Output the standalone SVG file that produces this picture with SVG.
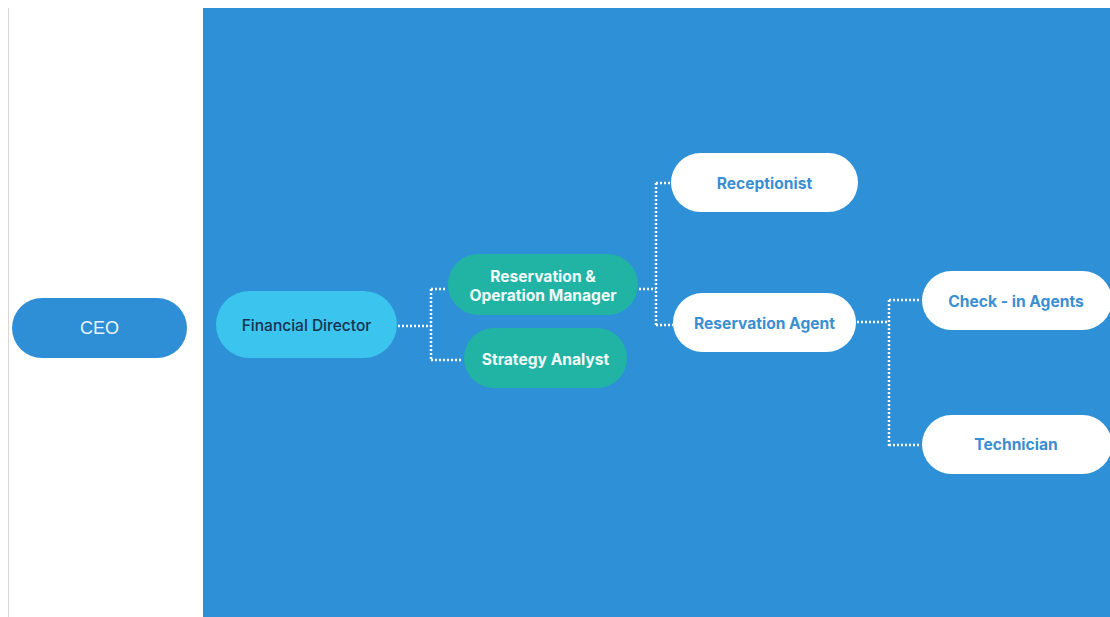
<svg xmlns="http://www.w3.org/2000/svg" width="1110" height="617" viewBox="0 0 1110 617">
  <style>
    .pill-ceo { fill: #2E8FD6; }
    .pill-fd { fill: #3AC4EE; }
    .pill-teal { fill: #21B4A5; }
    .pill-white { fill: #FFFFFF; }
    .t { font-family: Inter, "Liberation Sans", sans-serif; text-anchor: middle; dominant-baseline: central; }
    .t-ceo { font-family: "Liberation Sans", Arial, sans-serif; font-size: 18px; fill: #E8F4FC; }
    .t-fd { font-size: 15.5px; fill: #17324F; font-weight: 500; }
    .t-teal { font-size: 15.6px; fill: #F2FBFA; font-weight: 700; }
    .t-blue { font-size: 15.6px; fill: #3A8FD2; font-weight: 700; }
    .link { fill: none; stroke: #FFFFFF; stroke-width: 2.5; stroke-dasharray: 2 2; }
  </style>

  <!-- page background -->
  <rect x="0" y="0" width="1110" height="617" fill="#FFFFFF"/>
  <line x1="8.5" y1="8" x2="8.5" y2="617" stroke="#D6D6D6" stroke-width="1"/>
  <rect x="203" y="8" width="907" height="609" fill="#2E90D6"/>

  <!-- connectors -->
  <g id="connectors">
    <path class="link" d="M398 326 H431 M431 289 V361 M431 289 H447 M431 360 H463"/>
    <path class="link" d="M639 289 H656 M656 183 V326 M656 183 H670 M656 325 H673"/>
    <path class="link" d="M857 322 H889 M889 300 V446 M889 300 H921 M889 445 H921"/>
  </g>

  <g id="ceo">
    <rect class="pill-ceo" x="12" y="298" width="175" height="60" rx="30"/>
    <text class="t t-ceo" x="99.5" y="328">CEO</text>
  </g>

  <g id="financial-director">
    <rect class="pill-fd" x="216" y="291" width="181" height="67" rx="33.5"/>
    <text class="t t-fd" x="306.5" y="325">Financial Director</text>
  </g>

  <g id="reservation-operation-manager">
    <rect class="pill-teal" x="448" y="254" width="190" height="61" rx="30.5"/>
    <text class="t t-teal" x="543" y="276">Reservation &amp;</text>
    <text class="t t-teal" x="543" y="295">Operation Manager</text>
  </g>

  <g id="strategy-analyst">
    <rect class="pill-teal" x="464" y="328" width="163" height="60" rx="30"/>
    <text class="t t-teal" x="545.5" y="359">Strategy Analyst</text>
  </g>

  <g id="receptionist">
    <rect class="pill-white" x="671" y="153" width="187" height="59" rx="29.5"/>
    <text class="t t-blue" x="764.5" y="183">Receptionist</text>
  </g>

  <g id="reservation-agent">
    <rect class="pill-white" x="673" y="293" width="183" height="59" rx="29.5"/>
    <text class="t t-blue" x="764.5" y="323">Reservation Agent</text>
  </g>

  <g id="check-in-agents">
    <rect class="pill-white" x="922" y="271" width="190" height="59" rx="29.5"/>
    <text class="t t-blue" x="1016" y="301">Check - in Agents</text>
  </g>

  <g id="technician">
    <rect class="pill-white" x="922" y="415" width="190" height="59" rx="29.5"/>
    <text class="t t-blue" x="1016" y="444">Technician</text>
  </g>
</svg>
